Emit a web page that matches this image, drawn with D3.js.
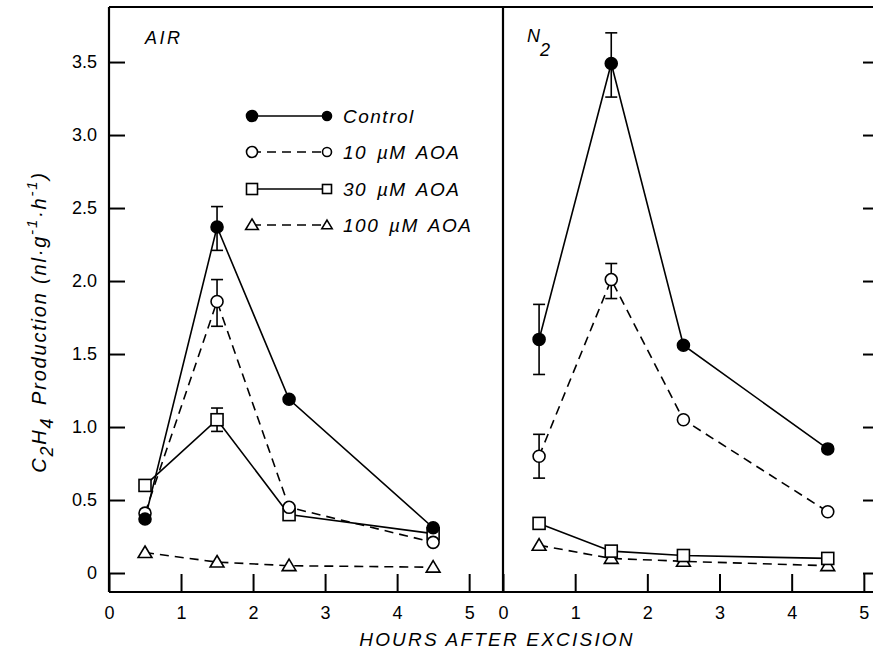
<!DOCTYPE html>
<html>
<head>
<meta charset="utf-8">
<script src="https://cdn.jsdelivr.net/npm/d3@7"></script>
<style>
body { margin: 0; background: #fff; }
svg text { font-family: "Liberation Sans", Arial, sans-serif; fill: #000; }
</style>
</head>
<body>
<div id="chart"></div>
<script>
const width = 873,
height = 655;

// hours after excision
const hours = [0.5, 1.5, 2.5, 4.5];
const seriesNames = ["Control", "10 \u00b5M AOA", "30 \u00b5M AOA", "100 \u00b5M AOA"];
const xTicks = [0, 1, 2, 3, 4, 5];
const yTicks = [0, 0.5, 1.0, 1.5, 2.0, 2.5, 3.0, 3.5];

// AIR panel
const airControl = [0.37, 2.37, 1.19, 0.31];
const air10 = [0.41, 1.86, 0.45, 0.21];
const air30 = [0.60, 1.05, 0.40, 0.27];
const air100 = [0.14, 0.075, 0.05, 0.04];

// N2 panel
const n2Control = [1.60, 3.49, 1.56, 0.85];
const n2_10 = [0.80, 2.01, 1.05, 0.42];
const n2_30 = [0.34, 0.15, 0.12, 0.10];
const n2_100 = [0.19, 0.10, 0.08, 0.05];

// error bars: [series index, hour, low, high]
const airErrors = [[0, 1.5, 2.21, 2.51], [1, 1.5, 1.69, 2.01], [2, 1.5, 0.97, 1.13]];
const n2Errors = [[0, 0.5, 1.36, 1.84], [0, 1.5, 3.26, 3.70], [1, 0.5, 0.65, 0.95], [1, 1.5, 1.88, 2.12]];

const svg = d3.select("#chart")
  .append("svg")
  .attr("width", width)
  .attr("height", height);

const y = d3.scaleLinear([-0.13, 3.877], [592, 7]);
const xL = d3.scaleLinear([0, 5.47], [109, 503]);
const xR = d3.scaleLinear([0, 5.21], [503, 879]);

const shapes = ["circle", "circle", "square", "triangle"];
const fills = ["#000", "#fff", "#fff", "#fff"];
const dashes = [null, "9,6", null, "9,6"];

// axes
function bottomAxis(x) {
  const g = svg.append("g")
    .attr("transform", "translate(0,592)")
    .call(d3.axisBottom(x).tickValues(xTicks).tickSize(-18).tickPadding(14).tickFormat(d3.format("d")));
  g.select(".domain").remove();
  g.selectAll("line").attr("stroke", "#000").attr("stroke-width", 2);
  g.selectAll("text").attr("font-size", 18).attr("fill", "#000");
}
bottomAxis(xL);
bottomAxis(xR);

const yl = svg.append("g")
  .attr("transform", "translate(109,0)")
  .call(d3.axisLeft(y).tickValues(yTicks).tickSize(-16).tickPadding(12)
    .tickFormat(d => d === 0 ? "0" : d.toFixed(1)));
yl.select(".domain").remove();
yl.selectAll("line").attr("stroke", "#000").attr("stroke-width", 2);
yl.selectAll("text").attr("font-size", 18).attr("fill", "#000");

const yr = svg.append("g")
  .attr("transform", "translate(879,0)")
  .call(d3.axisRight(y).tickValues(yTicks).tickSize(-16).tickFormat(""));
yr.select(".domain").remove();
yr.selectAll("line").attr("stroke", "#000").attr("stroke-width", 2);

// frame
const frame = svg.append("g").attr("stroke", "#000").attr("stroke-width", 2.2).attr("fill", "none");
frame.append("line").attr("x1", 109).attr("x2", 879).attr("y1", 7).attr("y2", 7);
frame.append("line").attr("x1", 109).attr("x2", 879).attr("y1", 592).attr("y2", 592);
frame.append("line").attr("x1", 109).attr("x2", 109).attr("y1", 7).attr("y2", 592);
frame.append("line").attr("x1", 503).attr("x2", 503).attr("y1", 7).attr("y2", 592);

function marker(g, shape, cx, cy, fill, s) {
  if (shape === "circle") {
    g.append("circle").attr("cx", cx).attr("cy", cy).attr("r", s)
      .attr("fill", fill).attr("stroke", "#000").attr("stroke-width", 1.6);
  } else if (shape === "square") {
    g.append("rect").attr("x", cx - s).attr("y", cy - s).attr("width", 2 * s).attr("height", 2 * s)
      .attr("fill", fill).attr("stroke", "#000").attr("stroke-width", 1.6);
  } else {
    const h = s * 1.1;
    g.append("path")
      .attr("d", `M${cx},${cy - h}L${cx + s * 1.15},${cy + h * 0.75}L${cx - s * 1.15},${cy + h * 0.75}Z`)
      .attr("fill", fill).attr("stroke", "#000").attr("stroke-width", 1.6);
  }
}

function panel(x, series, errors) {
  const g = svg.append("g");
  const line = d3.line().x(d => x(d[0])).y(d => y(d[1]));
  errors.forEach(e => {
    const eg = g.append("g").attr("stroke", "#000").attr("stroke-width", 1.6);
    const cx = x(e[1]);
    eg.append("line").attr("x1", cx).attr("x2", cx).attr("y1", y(e[2])).attr("y2", y(e[3]));
    eg.append("line").attr("x1", cx - 6).attr("x2", cx + 6).attr("y1", y(e[2])).attr("y2", y(e[2]));
    eg.append("line").attr("x1", cx - 6).attr("x2", cx + 6).attr("y1", y(e[3])).attr("y2", y(e[3]));
  });
  series.forEach((vals, i) => {
    g.append("path")
      .datum(hours.map((h, j) => [h, vals[j]]))
      .attr("d", line)
      .attr("fill", "none")
      .attr("stroke", "#000")
      .attr("stroke-width", 1.6)
      .attr("stroke-dasharray", dashes[i]);
  });
  series.slice().reverse().forEach((vals, k) => {
    const i = series.length - 1 - k;
    hours.forEach((h, j) => marker(g, shapes[i], x(h), y(vals[j]), fills[i], 6));
  });
}

panel(xL, [airControl, air10, air30, air100], airErrors);
panel(xR, [n2Control, n2_10, n2_30, n2_100], n2Errors);

// legend
const legendRows = [116, 152, 189, 225];
const legend = svg.append("g");
seriesNames.forEach((name, i) => {
  const ly = legendRows[i];
  legend.append("line").attr("x1", 252).attr("x2", 327).attr("y1", ly).attr("y2", ly)
    .attr("stroke", "#000").attr("stroke-width", 1.6).attr("stroke-dasharray", dashes[i]);
  marker(legend, shapes[i], 252, ly, fills[i], 5.5);
  marker(legend, shapes[i], 327, ly, fills[i], 4.5);
  legend.append("text").attr("x", 343).attr("y", ly + 7)
    .attr("font-size", 19).attr("font-style", "italic").attr("letter-spacing", 1.5)
    .attr("word-spacing", 3)
    .text(name);
});

// panel labels
svg.append("text").attr("x", 145).attr("y", 44)
  .attr("font-size", 18).attr("font-style", "italic").attr("letter-spacing", 2.5).text("AIR");
const n2 = svg.append("text").attr("x", 527).attr("y", 42)
  .attr("font-size", 18).attr("font-style", "italic");
n2.append("tspan").text("N");
n2.append("tspan").attr("dy", 14).text("2");

// axis titles
svg.append("text")
  .attr("x", 497).attr("y", 646)
  .attr("text-anchor", "middle")
  .attr("font-size", 19).attr("font-style", "italic").attr("letter-spacing", 2.2)
  .text("HOURS AFTER EXCISION");

const yt = svg.append("text")
  .attr("transform", "translate(46,322) rotate(-90)")
  .attr("text-anchor", "middle")
  .attr("font-size", 20).attr("font-style", "italic").attr("letter-spacing", 1.8);
yt.append("tspan").text("C");
yt.append("tspan").attr("dy", 7).attr("font-size", 18).text("2");
yt.append("tspan").attr("dy", -7).text("H");
yt.append("tspan").attr("dy", 7).attr("font-size", 18).text("4");
yt.append("tspan").attr("dy", -7).text("\u2002Production (nl\u00b7g");
yt.append("tspan").attr("dy", -9).attr("font-size", 15).text("-1");
yt.append("tspan").attr("dy", 9).text("\u00b7h");
yt.append("tspan").attr("dy", -9).attr("font-size", 15).text("-1");
yt.append("tspan").attr("dy", 9).text(")");
</script>
</body>
</html>
